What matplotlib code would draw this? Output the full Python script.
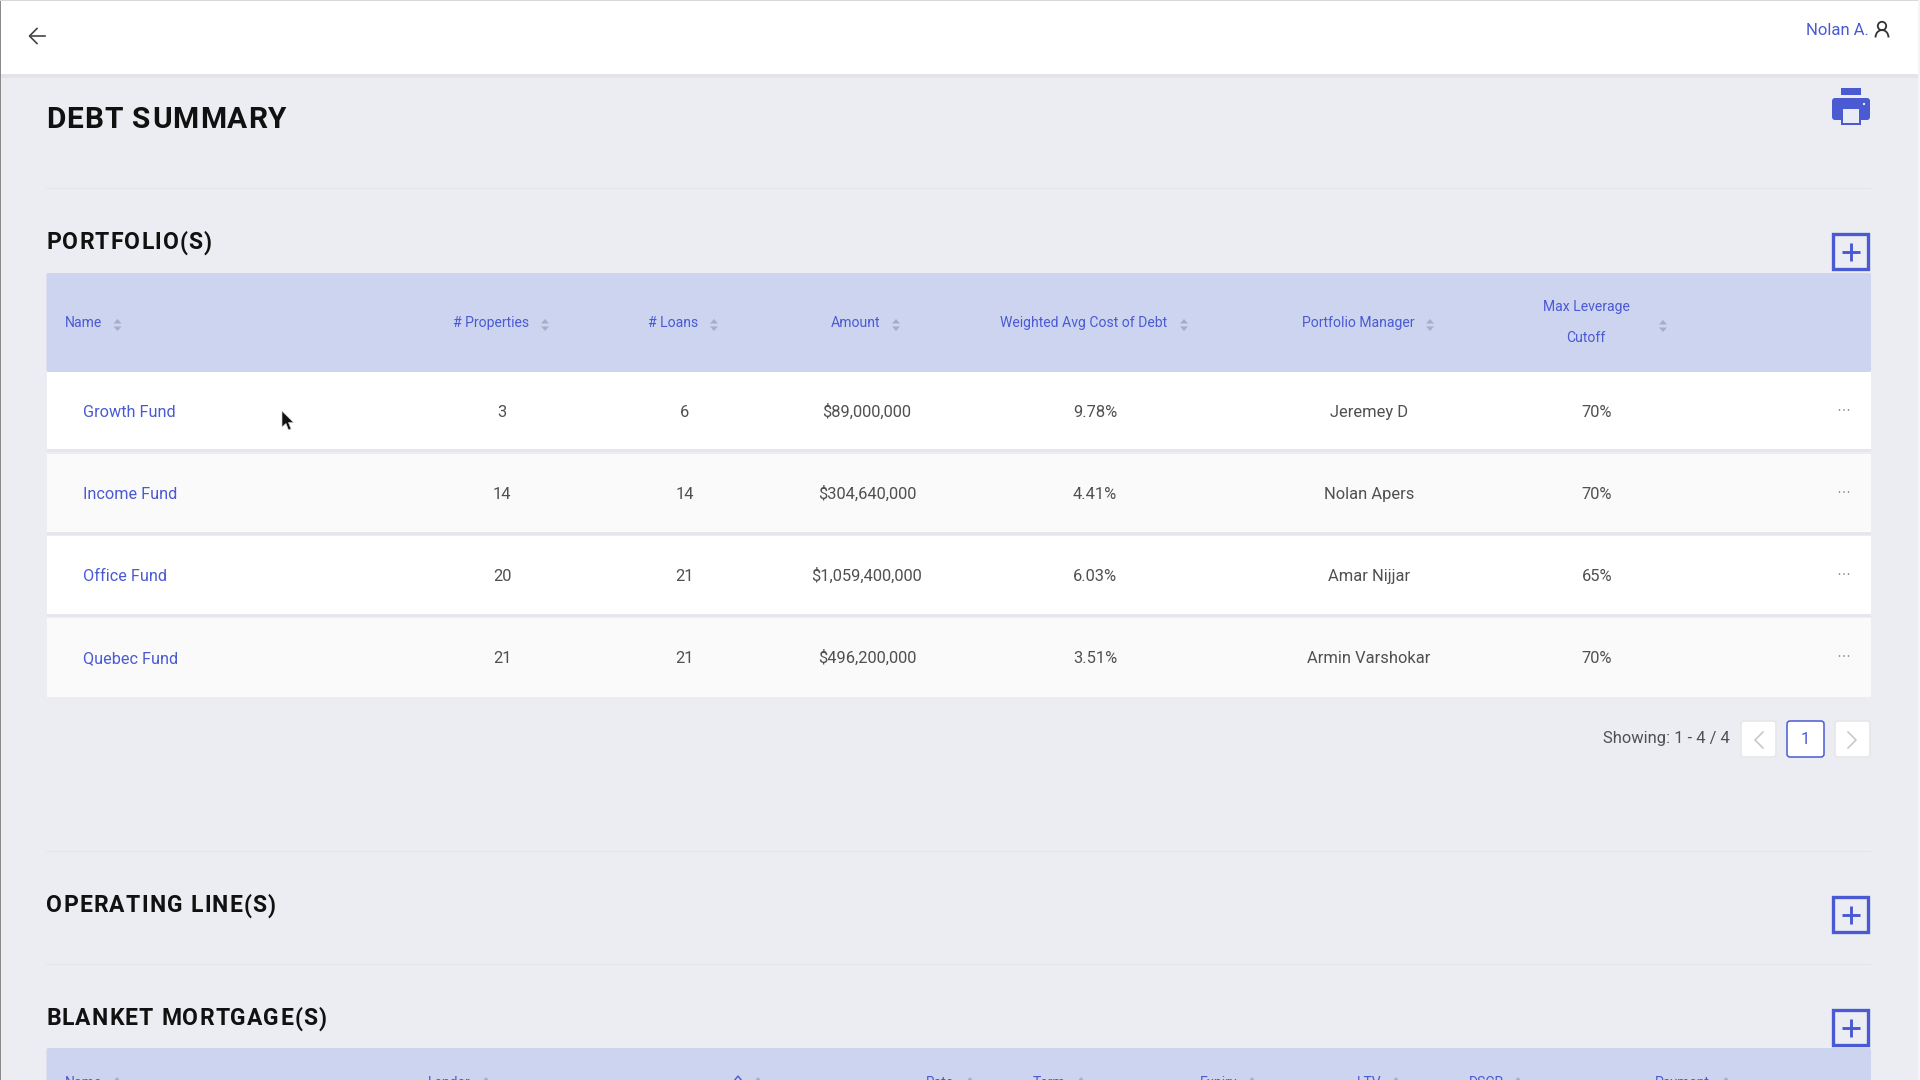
import matplotlib
matplotlib.use("Agg")
import matplotlib.pyplot as plt
from matplotlib.patches import Rectangle, FancyBboxPatch, Polygon, Circle, Arc
from matplotlib.text import Text
from matplotlib.transforms import Bbox

# ---- data ----
page_title = "DEBT SUMMARY"
section_titles = ["PORTFOLIO(S)", "OPERATING LINE(S)", "BLANKET MORTGAGE(S)"]
user_name = "Nolan A."

fund_names = ["Growth Fund", "Income Fund", "Office Fund", "Quebec Fund"]
properties = ["3", "14", "20", "21"]
loans = ["6", "14", "21", "21"]
amounts = ["$89,000,000", "$304,640,000", "$1,059,400,000", "$496,200,000"]
rates = ["9.78%", "4.41%", "6.03%", "3.51%"]
managers = ["Jeremey D", "Nolan Apers", "Amar Nijjar", "Armin Varshokar"]
leverage = ["70%", "70%", "65%", "70%"]

header_labels = ["Name", "# Properties", "# Loans", "Amount",
                 "Weighted Avg Cost of Debt", "Portfolio Manager"]
header_last = ["Max Leverage", "Cutoff"]
blanket_labels = ["Name", "Lender", "Rate", "Term", "Expiry", "LTV", "DSCR", "Payment"]
pagination_text = "Showing: 1 - 4 / 4"

# ---- layout (pixels) ----
BG = "#ecedf3"
HEAD = "#cdd4f0"
BLUE = "#4a5ad2"
TXT = "#505050"
FONT = "Roboto"

fig = plt.figure(figsize=(19.2, 10.8), dpi=100, facecolor=BG)
ax = fig.add_axes([0, 0, 1, 1])
ax.set_xlim(0, 1920)
ax.set_ylim(1080, 0)
ax.axis("off")


class SpacedText(Text):
    """One text object whose glyphs are drawn with CSS-like letter spacing."""

    def __init__(self, x, y, s, target_right=None, **kw):
        super().__init__(x, y, s, **kw)
        self.target_right = target_right

    def _prefix(self, renderer, s):
        if not s:
            return 0.0
        return renderer.get_text_width_height_descent(s, self.get_fontproperties(), False)[0]

    def _spacing(self, renderer):
        s = self.get_text()
        x0 = self.get_transform().transform(self.get_position())[0]
        x1 = self.get_transform().transform((self.target_right, 0))[0]
        return (x1 - x0 - self._prefix(renderer, s)) / (len(s) - 1)

    def get_window_extent(self, renderer=None, dpi=None):
        renderer = renderer or self.get_figure().canvas.get_renderer()
        bb = super().get_window_extent(renderer, dpi)
        x1 = self.get_transform().transform((self.target_right, 0))[0]
        return Bbox([[bb.x0, bb.y0], [x1, bb.y1]])

    def draw(self, renderer):
        s = self.get_text()
        x0, y0 = self.get_transform().transform(self.get_position())
        sp = self._spacing(renderer)
        gc = renderer.new_gc()
        gc.set_foreground(self.get_color())
        gc.set_antialiased(True)
        height = renderer.get_canvas_width_height()[1]
        for i, ch in enumerate(s):
            if ch == " ":
                continue
            x = x0 + self._prefix(renderer, s[:i + 1]) - self._prefix(renderer, ch) + i * sp
            renderer.draw_text(gc, x, height - y0, ch, self.get_fontproperties(), 0)
        gc.restore()


def rect(x0, y0, x1, y1, c, z=1, **kw):
    ax.add_patch(Rectangle((x0, y0), x1 - x0, y1 - y0, facecolor=c, edgecolor="none", zorder=z, **kw))


def txt(x, y, s, size=11.9, color=TXT, ha="center", weight="normal", family=FONT):
    ax.text(x, y + 0.355 * size * 100 / 72, s, fontsize=size, color=color, ha=ha, va="baseline",
            weight=weight, family=family, zorder=5)


def title(x, y, right, s, size):
    t = SpacedText(x, y + 0.355 * size * 100 / 72, s, target_right=right, fontsize=size, color="#111111",
                   ha="left", va="baseline", weight="bold", family=FONT, zorder=5)
    ax.add_artist(t)


def sorter(x, y):
    ax.add_patch(Polygon([(x - 4, y - 1.5), (x + 4, y - 1.5), (x, y - 6)], facecolor="#a9adc4", edgecolor="none", zorder=4))
    ax.add_patch(Polygon([(x - 4, y + 1.5), (x + 4, y + 1.5), (x, y + 6)], facecolor="#a9adc4", edgecolor="none", zorder=4))


def plus_box(x0, y0, x1, y1):
    ax.add_patch(Rectangle((x0, y0), x1 - x0, y1 - y0, facecolor="none", edgecolor=BLUE, lw=2.4, zorder=4))
    cx, cy = (x0 + x1) / 2, (y0 + y1) / 2
    ax.plot([cx - 9, cx + 9], [cy, cy], color=BLUE, lw=2.1, zorder=4, solid_capstyle="butt")
    ax.plot([cx, cx], [cy - 9, cy + 9], color=BLUE, lw=2.1, zorder=4, solid_capstyle="butt")


# top bar + edges
rect(0, 74, 1920, 78, "#e3e4ea", 1)
rect(0, 0, 1920, 74, "#ffffff", 2)
rect(0, 0, 1, 1080, "#8a8a8a", 6)
rect(0, 0, 1920, 1, "#d8d8d8", 6)
rect(1918, 0, 1920, 1080, "#f4f4f6", 6)

# back arrow
ax.plot([45, 29.5], [36, 36], color="#444444", lw=1.2, zorder=4)
ax.plot([37, 29.5, 37], [28.5, 36, 43.5], color="#444444", lw=1.2, zorder=4)

# user
txt(1869, 29, user_name, size=12.0, color=BLUE, ha="right")
ax.add_patch(Circle((1882, 26), 4.2, facecolor="none", edgecolor="#333333", lw=1.3, zorder=4))
ax.add_patch(Arc((1882, 37.5), 13, 15, theta1=180, theta2=360, edgecolor="#333333", lw=1.3, zorder=4))

# printer
rect(1841, 88, 1861, 95, BLUE, 4)
ax.add_patch(FancyBboxPatch((1832, 98), 38, 22, boxstyle="round,pad=0,rounding_size=3", facecolor=BLUE, edgecolor="none", zorder=4))
rect(1841, 107, 1861, 125, BLUE, 4)
rect(1843, 109, 1858.5, 122.5, "#e9ebf5", 5)
ax.add_patch(Circle((1864, 104), 1.1, facecolor="white", edgecolor="none", zorder=5))

# titles
title(46, 117, 286.5, page_title, 21.5)
title(46, 241, 212, section_titles[0], 16.5)
title(46, 904, 276, section_titles[1], 16.5)
title(46, 1017, 326.5, section_titles[2], 16.5)

# dividers
for y in (188, 851, 964):
    rect(46, y, 1871, y + 1, "#e4e5eb", 1)

# plus boxes
plus_box(1833, 234, 1868, 269)
plus_box(1833, 897, 1868, 932)
plus_box(1833, 1010, 1868, 1045)

# header band
ax.add_patch(FancyBboxPatch((46.5, 273), 1824.5, 99, boxstyle="round,pad=0,rounding_size=2", facecolor=HEAD, edgecolor="none", zorder=1))
header_x = [84, 491, 673.5, 856, 1084, 1358]
header_sort = [117.5, 545, 714, 896, 1184, 1430]
for lab, x, sx in zip(header_labels, header_x, header_sort):
    txt(x, 322, lab, size=10.1, color=BLUE)
    sorter(sx, 325)
txt(1586, 306.5, header_last[0], size=10.1, color=BLUE)
txt(1586, 337.5, header_last[1], size=10.1, color=BLUE)
sorter(1663, 326)

# rows
row_top = [372, 454, 536, 618]
row_bot = [449, 532, 614, 697]
row_col = ["#ffffff", "#fafafa", "#ffffff", "#fafafa"]
row_y = [411, 493, 575, 657]
col_x = [502, 684.5, 867, 1095, 1369, 1597]
for i in range(len(fund_names)):
    if i < 3:
        rect(46.5, row_bot[i], 1871, row_bot[i] + 3, "#e6e7ed", 1)
    rect(46.5, row_top[i], 1871, row_bot[i], row_col[i], 2)
    txt(83, row_y[i], fund_names[i], size=11.7, color=BLUE, ha="left")
    for x, vals in zip(col_x, (properties, loans, amounts, rates, managers, leverage)):
        txt(x, row_y[i], vals[i])
    for dx in (-4.5, 0, 4.5):
        ax.add_patch(Circle((1844 + dx, row_y[i] - 1), 0.8, facecolor="#777777", edgecolor="none", zorder=4))

# cursor
ax.add_patch(Polygon([(282, 411), (282, 427), (286, 423.5), (288.5, 430), (291, 429), (288.5, 422.5), (293.5, 422.5)],
                     facecolor="#111111", edgecolor="#cccccc", lw=0.5, zorder=7))

# pagination
txt(1730, 737.5, pagination_text, size=11.9, ha="right")
for x0, x1, ec in ((1741, 1776, "#e6e6ea"), (1787, 1824, BLUE), (1835, 1870, "#e6e6ea")):
    ax.add_patch(FancyBboxPatch((x0, 721), x1 - x0, 36, boxstyle="round,pad=0,rounding_size=3",
                                facecolor="white", edgecolor=ec, lw=1.1, zorder=3))
txt(1805, 738, "1", size=11.9, color=BLUE)
ax.plot([1763, 1755, 1763], [732, 740, 748], color="#c4c4c4", lw=1.1, zorder=4)
ax.plot([1848, 1856, 1848], [732, 740, 748], color="#c4c4c4", lw=1.1, zorder=4)

# blanket mortgage header, cut by the window edge as in the reference
ax.add_patch(FancyBboxPatch((46.5, 1048), 1824.5, 60, boxstyle="round,pad=0,rounding_size=2", facecolor=HEAD, edgecolor="none", zorder=1))
blanket_x = [84, 449, 940, 1049, 1219, 1369, 1486, 1682]
blanket_sort = [117, 486, 970, 1081, 1252, 1396, 1518, 1726, 758]
for lab, x in zip(blanket_labels, blanket_x):
    txt(x, 1082, lab, size=10.1, color=BLUE)
for sx in blanket_sort:
    ax.add_patch(Polygon([(sx, 1077), (sx - 4, 1082), (sx + 4, 1082)], facecolor="#a9adc4", edgecolor="none", zorder=4))
ax.add_patch(Polygon([(738, 1076), (734, 1081), (742, 1081)], facecolor="none", edgecolor=BLUE, lw=1.0, zorder=4))

fig.savefig("out.png", dpi=100, facecolor=BG)
